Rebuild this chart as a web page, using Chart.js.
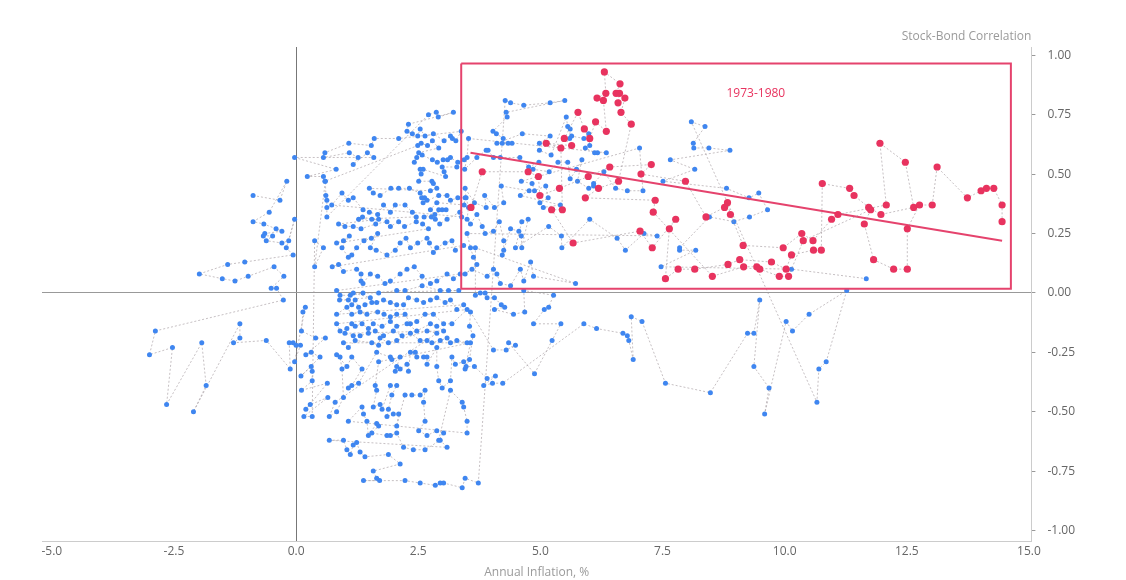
<!DOCTYPE html>
<html>
<head>
<meta charset="utf-8">
<script src="https://cdn.jsdelivr.net/npm/chart.js@4.4.1/dist/chart.umd.min.js"></script>
<style>
  html, body { margin: 0; padding: 0; background: #fff; }
</style>
</head>
<body>
<canvas id="chart" width="1126" height="580"></canvas>
<script>
// monthly points, annual inflation (%) vs stock-bond correlation
const blueInflation = [
  -0.88, -0.33, -0.19, -0.55, -0.88, -0.66, -0.41, -0.29, -0.64, -0.67,
  -0.48, -0.61, -0.29, -0.15, -0.03, -0.20, -0.06, -1.05, -1.40, -1.98,
  -1.51, -1.25, -0.98, -0.45, -0.25, -0.51, -0.40, -0.26, -2.88, -3.00,
  -2.53, -2.65, -1.93, -1.84, -2.10, -1.15, -1.15, -1.28, -0.61, -0.12,
  -0.14, -0.06, 0.00, 0.09, -0.03, 0.19, 0.14, 0.11, 0.40, 0.60,
  0.20, 0.31, 0.49, 0.10, 0.31, 0.33, 0.33, 0.11, 0.64, 0.20,
  0.29, 0.65, 0.16, 0.33, 0.38, 0.56, 0.38, 0.60, 0.61, 0.63,
  0.63, 0.63,
  2.71, 2.87, 2.91, 3.22, 2.30, 2.27, 2.38, 2.49, 2.54, 2.64,
  2.81, 3.03, 3.16, 3.20, 3.27, 3.38, 2.10, 1.60, 1.54, 1.08,
  0.59, 0.56, 1.09, 1.27, 1.17, 1.46, 1.59, -0.03, 0.82, 0.23,
  0.56, 0.59, 2.49, 2.56, 2.69, 2.79, 2.92, 2.51, 2.47, 2.42,
  2.58, 2.79, 2.89, 3.01, 3.10, 3.16, 3.31, 3.44, 3.29, 2.99,
  3.03, 3.06, 2.60, 2.54, 2.56, 2.51, 2.78, 2.81, 2.88, 2.75,
  1.50, 1.58, 1.72, 1.94, 2.10, 2.32, 2.54, 2.63, 2.68, 2.57,
  2.60, 2.92, 3.09, 3.16, 3.31, 3.46, 3.44, 2.88, 2.75, 2.84,
  2.92, 2.99, 3.07, 2.62, 2.77, 2.85, 2.94, 3.09, 3.35, 3.39,
  0.73, 0.94, 1.07, 1.17, 1.37, 1.50, 1.67, 1.79, 1.93, 2.03,
  2.23, 2.38, 2.46, 1.28, 1.36, 1.55, 1.69, 0.87, 1.00, 1.17,
  1.33, 1.63, 1.86, 1.93, 2.10, 2.22, 2.46, 2.59, 2.71, 0.83,
  0.97, 1.09, 0.94, 1.07, 1.14, 1.24, 1.39, 1.54, 1.67, 1.52,
  1.64, 1.86, 2.03, 2.13, 2.25, 2.34, 2.49, 2.68, 2.73, 2.81,
  2.88, 3.05, 3.19, 3.26, 3.43, 0.74, 0.87, 0.97, 1.24, 1.33,
  1.33, 1.37, 1.52, 1.67, 1.82, 1.93, 2.13, 2.27, 2.42, 2.58,
  2.75, 2.88, 3.09, 3.22, 3.36, 0.83, 0.90, 1.11, 1.37, 1.69,
  2.06, 2.23, 2.58, 2.95, 3.12, 3.33,
  1.17, 1.52, 0.89, 1.07, 1.14, 1.21, 1.28, 1.41, 1.55, 1.65,
  1.79, 1.93, 2.06, 2.20, 2.30, 2.47, 2.61, 2.75, 2.88, 3.05,
  3.16, 3.29, 3.43, 0.83, 1.04, 1.14, 1.31, 1.45, 1.67, 1.80,
  1.93, 2.06, 2.23, 2.34, 2.47, 2.64, 2.81, 3.02, 3.19, 3.50,
  0.83, 0.90, 1.04, 1.14, 1.21, 1.35, 1.48, 1.58, 1.76, 1.93,
  2.06, 2.27, 2.47, 2.75, 2.88, 3.02, 1.00, 1.17, 1.31, 1.48,
  1.62, 1.79, 1.99, 2.17, 2.34, 2.54, 2.68, 2.78, 2.95, 3.09,
  3.16, 3.29, 3.50, 0.97, 1.07, 1.21, 1.55, 1.69, 1.72, 1.89,
  2.06, 2.68, 2.88, 0.80, 0.68, 0.83, 0.97, 0.94, 0.90, 0.83,
  1.04, 1.14, 1.35, 1.14, 1.07, 1.28, 1.65, 1.93, 1.96, 2.13,
  2.06, 2.03, 2.13, 2.27, 2.30, 2.34, 2.44, 2.47, 2.61, 2.68,
  2.68, 2.88, 2.88, 2.92, 2.99, 3.16, 3.19, 3.26, 3.43, 3.46,
  3.57, 1.69, 1.62, 1.65, 1.58, 1.72, 1.76, 1.93, 2.06, 1.96,
  1.89, 1.86, 1.99, 2.10, 2.06, 2.23, 2.37, 2.54, 2.64, 2.61,
  2.64, 2.51, 2.68, 2.88, 3.02, 2.92, 3.16, 3.40, 3.43, 3.50,
  3.50, 1.07, 1.35, 1.38, 1.45, 1.48, 1.65, 1.69, 1.55, 1.86,
  1.93, 2.06, 2.20, 2.40, 2.64, 2.95, 3.09, 0.68, 0.97, 1.04,
  1.11, 1.17, 1.24, 1.31, 1.41, 1.89, 2.13, 1.58, 1.65, 1.71,
  1.38, 2.23, 2.54, 2.85, 2.95, 3.02, 3.40, 3.46, 3.73,
  4.28, 4.39, 4.66, 5.20, 5.50, 4.30, 4.32, 4.03, 4.10, 4.24,
  4.22, 4.34, 4.42, 4.11, 4.63, 5.20, 4.98, 4.98, 5.22, 5.53,
  5.56, 5.61, 5.60, 5.64, 5.89, 5.99, 6.01, 5.92, 6.11, 6.17,
  6.35, 3.53, 3.50, 3.45, 3.70, 3.89, 3.93, 4.04, 4.18, 4.58,
  4.76, 4.97, 4.85, 5.18, 5.36, 5.56, 5.61, 5.74, 5.85, 5.76,
  5.99, 6.09, 6.09, 6.30, 6.54, 6.78, 7.10, 7.03, 4.61, 4.83,
  4.88, 5.11, 5.16, 4.99, 5.06, 5.41, 4.59, 4.77, 4.20, 4.25,
  4.06, 3.86, 3.89, 3.65, 3.46, 3.48, 3.53, 3.50, 3.57, 3.70,
  3.81, 3.87, 4.04, 4.16, 4.25, 4.25, 4.22, 4.39, 4.56, 4.61,
  4.62, 4.75, 4.62, 4.49, 5.17, 5.43, 5.44, 6.01, 6.57, 6.74,
  7.12, 7.39, 3.50, 3.57, 3.63, 3.70, 3.46, 3.60, 3.91, 4.04,
  4.11, 4.18, 4.39, 4.59, 4.66, 4.80, 4.86, 5.72, 3.67,
  3.67, 3.77, 3.87, 3.91, 4.06, 4.20, 4.27, 4.06, 4.45, 4.68,
  4.66, 5.27, 5.17, 5.08, 4.86, 5.42, 5.24, 4.88, 4.35, 4.49,
  4.30, 4.04, 3.57, 3.55, 3.62, 3.55, 3.48, 3.65, 3.91, 4.08,
  3.84, 4.02, 4.23, 5.89, 6.15, 6.69, 6.78, 6.81, 6.90, 6.86,
  7.08,
  7.56, 8.48, 9.24, 9.37, 9.49, 9.37, 9.68, 9.59, 10.03, 10.16,
  10.50, 11.27, 10.85, 10.70, 10.66, 8.09, 8.37, 8.13, 8.14, 8.45,
  8.88, 7.66, 8.16, 7.51, 8.81, 9.27, 9.47, 9.65, 9.28, 8.96,
  8.46, 7.85, 7.85, 8.18, 7.47, 10.14, 11.67
];
const blueCorr = [
  0.41, 0.39, 0.47, 0.34, 0.30, 0.29, 0.27, 0.26, 0.25, 0.24,
  0.24, 0.22, 0.21, 0.22, 0.31, 0.19, 0.16, 0.13, 0.12, 0.08,
  0.06, 0.05, 0.07, 0.11, 0.07, 0.02, 0.02, -0.03, -0.16, -0.26,
  -0.23, -0.47, -0.21, -0.39, -0.50, -0.13, -0.19, -0.21, -0.20, -0.32,
  -0.21, -0.21, -0.22, -0.22, -0.29, -0.06, -0.08, -0.16, -0.19, -0.19,
  -0.26, -0.25, -0.27, -0.35, -0.31, -0.33, -0.37, -0.41, -0.38, -0.49,
  -0.47, -0.44, -0.52, -0.52, 0.22, 0.19, 0.11, 0.47, 0.41, 0.39,
  0.36, 0.32,
  0.75, 0.76, 0.74, 0.76, 0.71, 0.68, 0.67, 0.66, 0.69, 0.66,
  0.67, 0.64, 0.66, 0.65, 0.64, 0.68, 0.65, 0.65, 0.62, 0.63,
  0.59, 0.57, 0.59, 0.57, 0.54, 0.59, 0.57, 0.57, 0.52, 0.49,
  0.49, 0.47, 0.62, 0.63, 0.62, 0.64, 0.61, 0.59, 0.57, 0.55,
  0.58, 0.56, 0.55, 0.56, 0.56, 0.57, 0.55, 0.56, 0.53, 0.53,
  0.51, 0.49, 0.52, 0.52, 0.50, 0.47, 0.47, 0.46, 0.44, 0.43,
  0.44, 0.42, 0.41, 0.44, 0.44, 0.44, 0.42, 0.40, 0.39, 0.40,
  0.38, 0.41, 0.41, 0.39, 0.40, 0.40, 0.37, 0.38, 0.35, 0.33,
  0.35, 0.35, 0.35, 0.32, 0.32, 0.31, 0.29, 0.31, 0.34, 0.32,
  0.37, 0.42, 0.39, 0.40, 0.35, 0.34, 0.33, 0.37, 0.34, 0.37,
  0.37, 0.34, 0.32, 0.31, 0.32, 0.31, 0.31, 0.29, 0.28, 0.28,
  0.27, 0.29, 0.30, 0.28, 0.30, 0.28, 0.30, 0.29, 0.27, 0.21,
  0.22, 0.24, 0.19, 0.15, 0.16, 0.19, 0.22, 0.23, 0.25, 0.19,
  0.18, 0.16, 0.18, 0.21, 0.23, 0.19, 0.21, 0.23, 0.21, 0.17,
  0.19, 0.21, 0.22, 0.18, 0.20, 0.11, 0.12, 0.09, 0.10, 0.08,
  0.05, 0.04, 0.08, 0.07, 0.04, 0.05, 0.08, 0.10, 0.11, 0.07,
  0.04, 0.05, 0.08, 0.06, 0.08, 0.01, -0.01, -0.01, 0.00, 0.00,
  0.01, 0.01, 0.03, 0.01, 0.01, 0.01,
  0.00, -0.02, -0.03, -0.03, -0.05, -0.03, -0.06, -0.05, -0.04, -0.04,
  -0.03, -0.04, -0.05, -0.05, -0.02, -0.03, -0.04, -0.03, -0.02, -0.04,
  -0.03, -0.07, -0.05, -0.09, -0.06, -0.09, -0.08, -0.09, -0.08, -0.09,
  -0.10, -0.09, -0.09, -0.13, -0.12, -0.09, -0.09, -0.13, -0.13, -0.07,
  -0.13, -0.16, -0.15, -0.13, -0.14, -0.13, -0.15, -0.13, -0.14, -0.12,
  -0.14, -0.13, -0.16, -0.13, -0.14, -0.16, -0.17, -0.18, -0.18, -0.17,
  -0.16, -0.18, -0.16, -0.18, -0.17, -0.20, -0.20, -0.21, -0.20, -0.19,
  -0.21, -0.20, -0.21, -0.21, -0.23, -0.20, -0.21, -0.22, -0.19, -0.21,
  -0.20, -0.16, -0.17, -0.46, -0.52, -0.50, -0.44, -0.32, -0.27, -0.26,
  -0.31, -0.27, -0.32, -0.39, -0.40, -0.38, -0.25, -0.27, -0.28, -0.27,
  -0.31, -0.33, -0.32, -0.30, -0.33, -0.25, -0.25, -0.27, -0.27, -0.27,
  -0.30, -0.23, -0.31, -0.37, -0.40, -0.37, -0.27, -0.30, -0.29, -0.32,
  -0.21, -0.29, -0.39, -0.41, -0.48, -0.47, -0.49, -0.39, -0.39, -0.43,
  -0.49, -0.52, -0.51, -0.51, -0.56, -0.43, -0.43, -0.43, -0.41, -0.46,
  -0.54, -0.58, -0.60, -0.58, -0.59, -0.62, -0.41, -0.46, -0.48, -0.54,
  -0.59, -0.54, -0.48, -0.51, -0.54, -0.60, -0.55, -0.56, -0.59, -0.60,
  -0.60, -0.59, -0.65, -0.66, -0.66, -0.62, -0.65, -0.62, -0.62, -0.66,
  -0.68, -0.64, -0.63, -0.67, -0.69, -0.68, -0.72, -0.75, -0.78, -0.79,
  -0.79, -0.79, -0.80, -0.81, -0.80, -0.80, -0.82, -0.78, -0.80,
  0.81, 0.80, 0.79, 0.80, 0.81, 0.76, 0.74, 0.68, 0.67, 0.65,
  0.63, 0.63, 0.63, 0.63, 0.67, 0.66, 0.63, 0.60, 0.58, 0.74,
  0.70, 0.69, 0.65, 0.66, 0.65, 0.67, 0.62, 0.61, 0.59, 0.59,
  0.59, 0.65, 0.57, 0.52, 0.57, 0.60, 0.60, 0.57, 0.57, 0.57,
  0.53, 0.55, 0.52, 0.51, 0.55, 0.55, 0.48, 0.52, 0.56, 0.47,
  0.44, 0.45, 0.46, 0.51, 0.44, 0.43, 0.43, 0.61, 0.47, 0.46,
  0.43, 0.45, 0.40, 0.38, 0.36, 0.37, 0.41, 0.43, 0.45, 0.38,
  0.36, 0.41, 0.36, 0.38, 0.44, 0.40, 0.36, 0.31, 0.29, 0.33,
  0.28, 0.25, 0.26, 0.30, 0.22, 0.18, 0.16, 0.27, 0.26, 0.24,
  0.19, 0.31, 0.30, 0.19, 0.28, 0.24, 0.19, 0.31, 0.23, 0.18,
  0.25, 0.24, 0.25, 0.19, 0.15, 0.12, 0.08, 0.10, 0.07, 0.10,
  0.08, 0.04, 0.03, 0.10, 0.05, 0.13, 0.07, 0.04, 0.19,
  -0.01, 0.00, 0.00, -0.02, -0.02, -0.05, -0.06, -0.07, -0.09, -0.08,
  0.01, -0.01, -0.06, -0.07, -0.13, -0.13, -0.20, -0.34, -0.21, -0.22,
  -0.24, -0.24, -0.08, -0.14, -0.18, -0.28, -0.31, -0.31, -0.36, -0.35,
  -0.39, -0.38, -0.38, -0.13, -0.15, -0.17, -0.18, -0.20, -0.28, -0.10,
  -0.12,
  -0.38, -0.42, -0.17, -0.17, -0.03, -0.31, -0.40, -0.51, -0.12, -0.16,
  -0.09, 0.01, -0.29, -0.32, -0.46, 0.72, 0.70, 0.63, 0.61, 0.61,
  0.60, 0.56, 0.52, 0.47, 0.44, 0.40, 0.42, 0.35, 0.32, 0.30,
  0.32, 0.19, 0.18, 0.18, 0.11, 0.10, 0.06
];

// 1973-1980 months, in time order
const redInflation = [
  3.58, 3.81, 4.75, 4.96, 4.99, 5.39, 5.98, 6.42, 7.27, 7.06, 7.97, 8.39,
  8.77, 8.83, 8.89, 9.15, 9.97, 10.35, 10.58, 10.96, 11.09, 12.08, 11.95, 12.47, 12.64,
  11.97, 11.72, 11.42, 11.33, 10.77, 10.75, 10.59, 10.14, 10.03, 9.73, 9.08, 8.84, 8.16, 7.82,
  7.56, 7.64, 7.77, 7.29, 7.04, 5.67, 5.23, 5.45, 5.42, 5.12, 5.64, 5.49,
  5.77, 5.90, 6.01, 6.13, 6.35, 6.29, 6.16, 6.34, 6.31, 6.63, 6.55, 6.62, 6.59, 6.73, 6.65, 6.86,
  6.60, 6.19, 5.92, 7.35, 7.31, 8.52, 9.16, 9.43, 9.49, 9.89, 10.08, 10.38,
  11.76, 11.63, 11.82, 12.23, 12.51, 12.51, 12.76, 13.02, 13.12, 13.74, 14.02,
  14.13, 14.28, 14.45, 14.45
];
const redCorr = [
  0.36, 0.51, 0.51, 0.49, 0.41, 0.44, 0.49, 0.53, 0.54, 0.50, 0.47, 0.32,
  0.36, 0.38, 0.33, 0.20, 0.19, 0.25, 0.22, 0.31, 0.33, 0.37, 0.63, 0.55, 0.36,
  0.33, 0.36, 0.41, 0.44, 0.46, 0.18, 0.18, 0.16, 0.10, 0.13, 0.14, 0.12, 0.10, 0.10,
  0.06, 0.27, 0.31, 0.19, 0.26, 0.21, 0.35, 0.35, 0.61, 0.63, 0.62, 0.65,
  0.76, 0.69, 0.65, 0.72, 0.68, 0.81, 0.82, 0.84, 0.93, 0.88, 0.84, 0.84, 0.80, 0.82, 0.76, 0.71,
  0.47, 0.44, 0.40, 0.39, 0.34, 0.07, 0.11, 0.11, 0.10, 0.07, 0.07, 0.22,
  0.35, 0.29, 0.14, 0.10, 0.10, 0.27, 0.37, 0.37, 0.53, 0.40, 0.43,
  0.44, 0.44, 0.37, 0.30
];

// highlight box and fitted line for 1973-1980
const boxInflation = [3.38, 14.63, 14.63, 3.38, 3.38];
const boxCorr = [0.966, 0.966, 0.017, 0.017, 0.966];
const trendInflation = [3.57, 14.45];
const trendCorr = [0.59, 0.22];
const periodLabel = '1973-1980';
const periodLabelAt = [9.41, 0.84];

const xTitle = 'Annual Inflation, %';
const yTitle = 'Stock-Bond Correlation';

const blue = '#3f86f0';
const pink = '#e8335f';
const boxPink = '#e5436d';
const dots = 'rgba(160, 150, 155, 0.6)';
const font = '"Open Sans", "DejaVu Sans", sans-serif';

const toPoints = (xs, ys) => xs.map((v, i) => ({ x: v, y: ys[i] }));

// text drawn on top: y-axis title and the period label
const annotations = {
    id: 'annotations',
    afterDatasetsDraw(chart) {
        const { ctx, chartArea, scales } = chart;
        ctx.save();
        ctx.font = '12px ' + font;
        ctx.fillStyle = '#9a9a9a';
        ctx.textAlign = 'right';
        ctx.textBaseline = 'middle';
        ctx.fillText(yTitle, chartArea.right, chartArea.top - 10);
        ctx.fillStyle = pink;
        ctx.textAlign = 'center';
        ctx.fillText(periodLabel,
            scales.x.getPixelForValue(periodLabelAt[0]),
            scales.y.getPixelForValue(periodLabelAt[1]));
        ctx.restore();
    }
};

new Chart(document.getElementById('chart'), {
    type: 'scatter',
    data: {
        datasets: [
            {
                label: periodLabel,
                data: toPoints(redInflation, redCorr),
                showLine: true,
                borderColor: dots,
                borderWidth: 1,
                borderDash: [2, 2],
                pointRadius: 3.6,
                pointBackgroundColor: pink,
                pointBorderWidth: 0
            },
            {
                label: 'trend',
                data: toPoints(trendInflation, trendCorr),
                showLine: true,
                borderColor: boxPink,
                borderWidth: 2,
                pointRadius: 0
            },
            {
                label: 'box',
                data: toPoints(boxInflation, boxCorr),
                showLine: true,
                borderColor: boxPink,
                borderWidth: 2,
                borderJoinStyle: 'miter',
                pointRadius: 0
            },
            {
                label: 'all months',
                data: toPoints(blueInflation, blueCorr),
                showLine: true,
                borderColor: dots,
                borderWidth: 1,
                borderDash: [2, 2],
                pointRadius: 2.5,
                pointBackgroundColor: blue,
                pointBorderWidth: 0
            }
        ]
    },
    options: {
        responsive: false,
        animation: false,
        layout: { padding: { left: 42, top: 47, right: 39, bottom: 0 } },
        plugins: {
            legend: { display: false },
            tooltip: { enabled: false }
        },
        scales: {
            x: {
                type: 'linear',
                min: -5.2,
                max: 15.05,
                ticks: {
                    stepSize: 2.5,
                    includeBounds: false,
                    padding: 3,
                    color: '#666',
                    font: { family: font, size: 12 },
                    callback: (v) => v.toFixed(1)
                },
                grid: {
                    drawTicks: false,
                    color: (ctx) => (ctx.tick && ctx.tick.value === 0 ? '#777' : 'transparent')
                },
                border: { color: '#ccc' },
                title: {
                    display: true,
                    text: xTitle,
                    color: '#9a9a9a',
                    font: { family: font, size: 12 },
                    padding: { top: 4, bottom: 0 }
                }
            },
            y: {
                type: 'linear',
                position: 'right',
                min: -1.045,
                max: 1.035,
                ticks: {
                    stepSize: 0.25,
                    includeBounds: false,
                    padding: 12,
                    color: '#666',
                    font: { family: font, size: 12 },
                    callback: (v) => v.toFixed(2)
                },
                grid: {
                    tickLength: 4,
                    tickColor: '#999',
                    color: (ctx) => (ctx.tick && ctx.tick.value === 0 ? '#999' : 'transparent')
                },
                border: { color: '#ccc' }
            }
        }
    },
    plugins: [annotations]
});
</script>
</body>
</html>
